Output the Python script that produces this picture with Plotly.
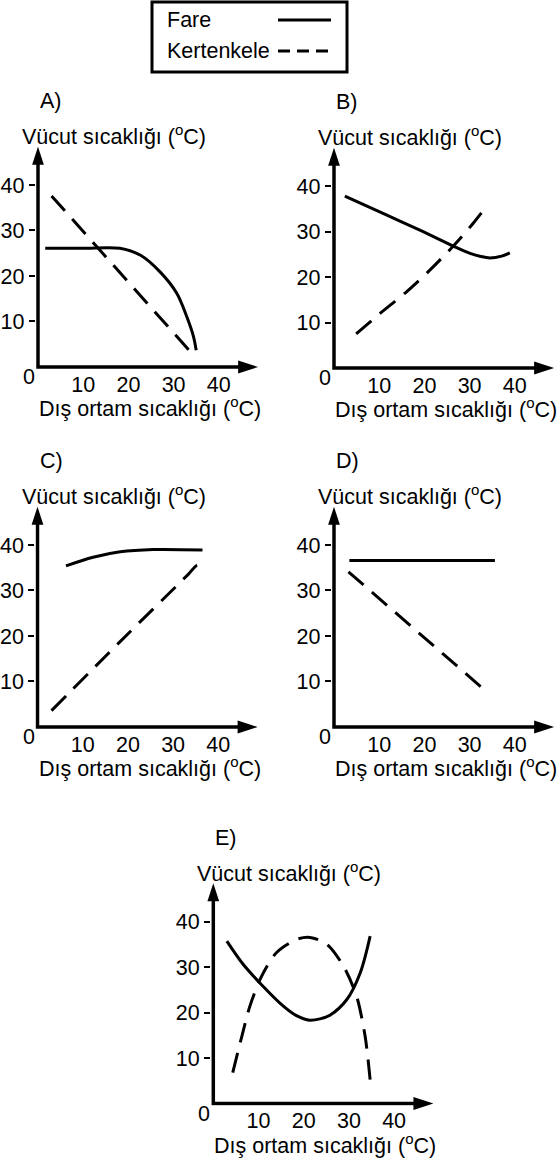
import plotly.graph_objects as go

W, H = 560, 1159
FONT = "Liberation Sans, Arial, sans-serif"
FS = 21.5

# ---------------- data ----------------
SERIES = ["Fare", "Kertenkele"]
PANELS = ["A)", "B)", "C)", "D)", "E)"]
Y_TITLE = "Vücut sıcaklığı (<sup>o</sup>C)"
X_TITLE = "Dış ortam sıcaklığı (<sup>o</sup>C)"
TICKS = [10, 20, 30, 40]

A_fare_x = [1.6, 10.0, 18.1, 22.6, 27.0, 30.7, 32.9, 34.4, 35.0]
A_fare_y = [26.1, 26.1, 26.1, 24.6, 20.9, 16.2, 11.1, 6.7, 3.7]
A_kert_x = [3.0, 34.4]
A_kert_y = [37.6, 2.6]

B_fare_x = [2.4, 11.7, 19.0, 26.4, 30.1, 32.5, 34.5, 37.1, 38.9]
B_fare_y = [37.8, 33.6, 30.3, 26.8, 25.2, 24.5, 24.2, 24.6, 25.3]
B_kert_x = [4.9, 10.2, 16.1, 21.2, 26.4, 30.8, 33.4]
B_kert_y = [7.5, 12.0, 16.8, 21.5, 26.8, 31.8, 35.1]

C_fare_x = [6.3, 12.3, 18.3, 25.6, 36.5]
C_fare_y = [35.4, 37.3, 38.5, 39.0, 38.9]
C_kert_x = [3.1, 18.0, 33.4, 35.2, 36.9]
C_kert_y = [3.6, 18.5, 33.6, 35.5, 35.8]

D_fare_x = [3.4, 35.6]
D_fare_y = [36.6, 36.6]
D_kert_x = [3.2, 33.6]
D_kert_y = [34.1, 7.9]

E_fare_x = [3.0, 6.6, 10.3, 15.5, 18.4, 21.3, 23.6, 25.8, 29.5, 32.5, 34.7]
E_fare_y = [35.7, 30.6, 26.5, 21.4, 19.3, 18.3, 18.6, 19.4, 22.8, 28.7, 36.8]
E_kert_x = [4.3, 6.3, 8.1, 10.7, 14.0, 18.5, 21.4, 25.1, 28.8, 31.7, 33.6, 34.7]
E_kert_y = [6.8, 14.7, 21.4, 28.0, 33.2, 36.1, 36.5, 35.0, 30.2, 23.6, 14.7, 5.2]

FARE = [(A_fare_x, A_fare_y), (B_fare_x, B_fare_y), (C_fare_x, C_fare_y),
        (D_fare_x, D_fare_y), (E_fare_x, E_fare_y)]
KERT = [(A_kert_x, A_kert_y), (B_kert_x, B_kert_y), (C_kert_x, C_kert_y),
        (D_kert_x, D_kert_y), (E_kert_x, E_kert_y)]

# ---------------- layout geometry (pixels) ----------------
ORIGINS = [(38, 367), (334, 368), (37.5, 727), (334, 727), (213.3, 1103.5)]
SX, SY = 4.52, 4.55          # px per unit
X_TIP, Y_TIP = 48.7, 48.4    # arrow tips (axis units)
X_LINE_END, Y_LINE_END = 46.5, 46.3
R0 = -0.5                    # range start, so axis lines at 0 are not clipped
LW = 3
DASH = "20px,11px"


def fx(px):
    return px / W


def fy(py):
    return 1 - py / H


fig = go.Figure()
annotations = []
shapes = []
txt = dict(family=FONT, size=FS, color="black")

for i, (ox, oy) in enumerate(ORIGINS):
    n = "" if i == 0 else str(i + 1)
    xa, ya = "x" + n, "y" + n
    # axes (line + arrow heads)
    fig.add_trace(go.Scatter(x=[X_LINE_END, 0, 0], y=[0, 0, Y_LINE_END], mode="lines",
                             line=dict(color="black", width=3.5),
                             xaxis=xa, yaxis=ya, showlegend=False, hoverinfo="skip",
                             cliponaxis=False))
    fig.add_trace(go.Scatter(x=[0, X_TIP], y=[Y_TIP, 0], mode="markers",
                             marker=dict(symbol="arrow", size=[19, 21], angle=[0, 90],
                                         color="black", opacity=1, line=dict(width=0)),
                             xaxis=xa, yaxis=ya, showlegend=False, hoverinfo="skip",
                             cliponaxis=False))
    fig.add_trace(go.Scatter(x=FARE[i][0], y=FARE[i][1], mode="lines",
                             line=dict(color="black", width=LW, shape="spline", smoothing=0.9),
                             xaxis=xa, yaxis=ya, showlegend=False, name=SERIES[0],
                             cliponaxis=False))
    fig.add_trace(go.Scatter(x=KERT[i][0], y=KERT[i][1], mode="lines",
                             line=dict(color="black", width=LW, dash=DASH, shape="spline", smoothing=0.8),
                             xaxis=xa, yaxis=ya, showlegend=False, name=SERIES[1],
                             cliponaxis=False))
    common = dict(showgrid=False, zeroline=False, showline=False,
                  tickvals=TICKS, ticktext=[str(t) for t in TICKS],
                  tickfont=txt, fixedrange=True)
    fig.layout["xaxis" + n] = dict(domain=[fx(ox + R0 * SX), fx(ox + (X_TIP + 0.1) * SX)],
                                   range=[R0, X_TIP + 0.1], anchor=ya, ticks="",
                                   ticklabelstandoff=0, **common)
    fig.layout["yaxis" + n] = dict(domain=[fy(oy - R0 * SY), fy(oy - (Y_TIP + 0.1) * SY)],
                                   range=[R0, Y_TIP + 0.1], anchor=xa, ticks="outside",
                                   ticklen=6, tickwidth=2, tickcolor="black",
                                   ticklabelstandoff=0, **common)
    # "0" at origin
    annotations.append(dict(x=fx(ox - 1), y=fy(oy + 10), xref="paper", yref="paper",
                            text="0", showarrow=False, xanchor="right", yanchor="middle",
                            font=txt))
    # panel letter
    annotations.append(dict(x=fx(ox), y=fy(oy - 266), xref="paper", yref="paper",
                            text=PANELS[i], showarrow=False, xanchor="left", yanchor="middle",
                            font=txt))
    # y title
    annotations.append(dict(x=fx(ox - 18), y=fy(oy - 232), xref="paper", yref="paper",
                            text=Y_TITLE, showarrow=False, xanchor="left", yanchor="middle",
                            font=txt))
    # x title
    annotations.append(dict(x=fx(ox - 1), y=fy(oy + 40), xref="paper", yref="paper",
                            text=X_TITLE, showarrow=False, xanchor="left", yanchor="middle",
                            font=txt))

# ---------------- manual legend ----------------
LEG_BOX = (152, 2, 347, 72)
LEG_ROWS = [20, 51]
LEG_TEXT_X = 165
LEG_LINE = (278, 331)
shapes.append(dict(type="rect", xref="paper", yref="paper",
                   x0=fx(LEG_BOX[0]), x1=fx(LEG_BOX[2]), y0=fy(LEG_BOX[1]), y1=fy(LEG_BOX[3]),
                   line=dict(color="black", width=3), fillcolor="rgba(0,0,0,0)"))
for name, ry, dash in zip(SERIES, LEG_ROWS, ["solid", "12px,7px"]):
    annotations.append(dict(x=fx(LEG_TEXT_X), y=fy(ry), xref="paper", yref="paper",
                            text=name, showarrow=False, xanchor="left", yanchor="middle",
                            font=txt))
    shapes.append(dict(type="line", xref="paper", yref="paper",
                       x0=fx(LEG_LINE[0]), x1=fx(LEG_LINE[1]), y0=fy(ry), y1=fy(ry),
                       line=dict(color="black", width=3, dash=dash)))

fig.update_layout(width=W, height=H, margin=dict(l=0, r=0, t=0, b=0),
                  paper_bgcolor="white", plot_bgcolor="white",
                  annotations=annotations, shapes=shapes, font=txt)

fig.write_html("out.html", config={"displayModeBar": False, "staticPlot": True},
               post_script="document.body.style.margin='0';document.body.style.padding='0';"
                           "document.body.style.overflow='hidden';")
